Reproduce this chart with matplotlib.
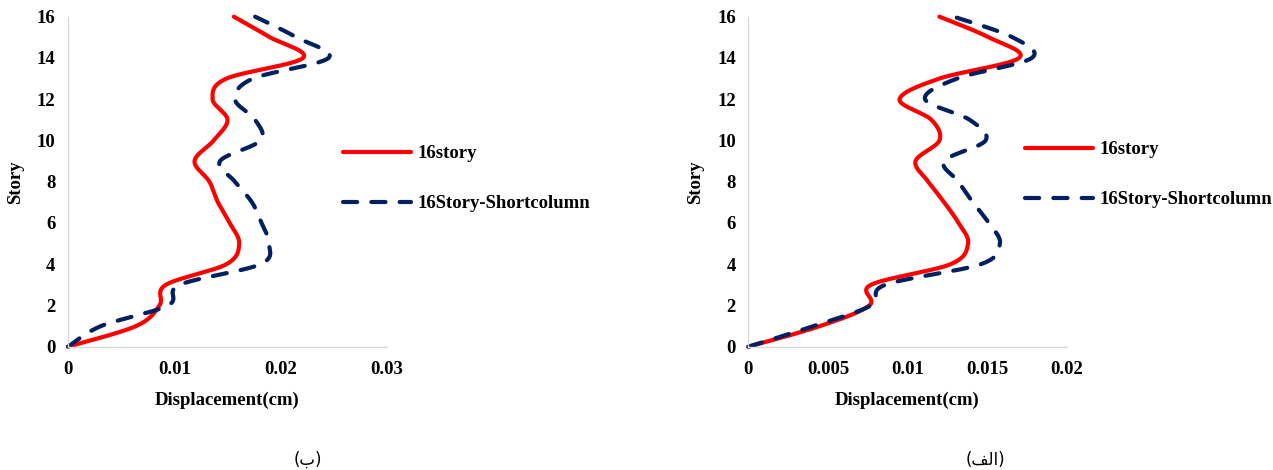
import matplotlib.pyplot as plt
import numpy as np

# data
STORIES = list(range(17))

# (ب) left panel
LEFT_16STORY = [0, 0.0064, 0.0086, 0.0092, 0.0149, 0.0161, 0.0152, 0.0141, 0.0133,
                0.0119, 0.0137, 0.0150, 0.0136, 0.0149, 0.0221, 0.0190, 0.0156]
LEFT_SHORTCOL = [0, 0.0031, 0.0094, 0.0105, 0.0181, 0.0189, 0.0182, 0.0173, 0.0157,
                 0.0143, 0.0181, 0.0176, 0.0157, 0.0174, 0.0245, 0.0215, 0.0176]

# (الف) right panel
RIGHT_16STORY = [0, 0.0045, 0.0076, 0.0077, 0.0127, 0.0138, 0.0132, 0.0123, 0.0113,
                 0.0105, 0.0120, 0.0115, 0.0095, 0.0120, 0.0170, 0.0151, 0.0120]
RIGHT_SHORTCOL = [0, 0.0041, 0.0077, 0.0086, 0.0146, 0.0158, 0.0151, 0.0141, 0.0132,
                  0.0123, 0.0149, 0.0139, 0.0111, 0.0131, 0.0178, 0.0166, 0.0129]

LEFT_XTICKS = [0, 0.01, 0.02, 0.03]
LEFT_XLABELS = ["0", "0.01", "0.02", "0.03"]
RIGHT_XTICKS = [0, 0.005, 0.01, 0.015, 0.02]
RIGHT_XLABELS = ["0", "0.005", "0.01", "0.015", "0.02"]
YTICKS = list(range(0, 17, 2))

NAMES = ["16story", "16Story-Shortcolumn"]
RED = "#FF0000"
NAVY = "#002060"

W, H = 1273, 470
FS = 13.5
plt.rcParams['font.family'] = ['Liberation Serif', 'DejaVu Serif']


def smooth(xs, ys, xscale, yscale, n=30):
    # excel-like smoothed line (bezier through the points)
    p = np.column_stack([np.array(xs) * xscale, np.array(ys) * yscale])
    out = []
    for i in range(len(p) - 1):
        p0 = p[i - 1] if i > 0 else p[i]
        p1, p2 = p[i], p[i + 1]
        p3 = p[i + 2] if i + 2 < len(p) else p[i + 1]
        c1 = p1 + (p2 - p0) / 6.0
        c2 = p2 - (p3 - p1) / 6.0
        t = np.linspace(0, 1, n)[:, None]
        seg = ((1 - t) ** 3) * p1 + 3 * ((1 - t) ** 2) * t * c1 + 3 * (1 - t) * t ** 2 * c2 + t ** 3 * p2
        out.append(seg if i == 0 else seg[1:])
    out = np.vstack(out)
    return out[:, 0] / xscale, out[:, 1] / yscale


def panel(ax, s1, s2, xmax, xticks, xlabels, leg_xy):
    w_px, h_px = 319, 330
    for vals, col, ls in [(s1, RED, '-'), (s2, NAVY, '--')]:
        sx, sy = smooth(vals, STORIES, w_px / xmax, h_px / 16.0)
        if ls == '-':
            ax.plot(sx, sy, color=col, lw=3.0, solid_capstyle='round', clip_on=False)
        else:
            ax.plot(sx, sy, color=col, lw=3.0, dashes=(3.4, 3.4), dash_capstyle='round',
                    clip_on=False)
    ax.set_xlim(0, xmax)
    ax.set_ylim(0, 16)
    ax.set_xticks(xticks)
    ax.set_xticklabels(xlabels)
    ax.set_yticks(YTICKS)
    for sp in ['top', 'right']:
        ax.spines[sp].set_visible(False)
    for sp in ['left', 'bottom']:
        ax.spines[sp].set_color('#D9D9D9')
        ax.spines[sp].set_linewidth(1.0)
    ax.tick_params(length=0, labelsize=FS, pad=9)
    ax.tick_params(axis='x', pad=10)
    for lab in ax.get_xticklabels() + ax.get_yticklabels():
        lab.set_fontweight('bold')
    ax.set_xlabel("Displacement(cm)", fontsize=FS, fontweight='bold', labelpad=10)
    ax.set_ylabel("Story", fontsize=FS, fontweight='bold', labelpad=9)
    leg = ax.legend(NAMES, loc='upper left', bbox_to_anchor=(leg_xy[0] / W, 1 - leg_xy[1] / H),
                    bbox_transform=ax.figure.transFigure, frameon=False, borderpad=0,
                    handlelength=3.6, handletextpad=0.37, labelspacing=1.75,
                    prop={'size': FS, 'weight': 'bold'})
    return leg


fig = plt.figure(figsize=(W / 100, H / 100), dpi=100)
ax1 = fig.add_axes([68 / W, 123.3 / H, 319 / W, 330 / H])
ax2 = fig.add_axes([748.3 / W, 123.3 / H, 318.5 / W, 330 / H])

panel(ax1, LEFT_16STORY, LEFT_SHORTCOL, 0.03, LEFT_XTICKS, LEFT_XLABELS, (334, 136))
panel(ax2, RIGHT_16STORY, RIGHT_SHORTCOL, 0.02, RIGHT_XTICKS, RIGHT_XLABELS, (1016, 132))

# captions, written in visual order with arabic presentation forms
fig.text(308 / W, 1 - 460 / H, "(\uFE8F)", ha='center', va='center', fontsize=12,
         family=['DejaVu Sans'])
fig.text(985 / W, 1 - 460 / H, "(\uFED2\uFEDF\uFE8D)", ha='center', va='center', fontsize=12,
         family=['DejaVu Sans'])

fig.savefig("out.png", dpi=100)
